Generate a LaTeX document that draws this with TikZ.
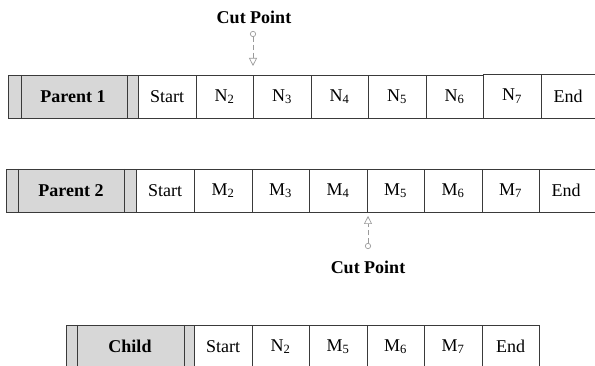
\documentclass[tikz,border=0pt]{standalone}
\usepackage{fontspec}
\setmainfont{Liberation Serif}
\usetikzlibrary{arrows.meta}
\definecolor{edge}{HTML}{3A3A3A}
\definecolor{shade}{HTML}{D7D7D7}
\definecolor{cutgray}{HTML}{9A9A9A}
\tikzset{
  cell/.style={draw=edge, line width=0.9pt, fill=white, anchor=north west,
    minimum height=43pt, inner sep=0pt, outer sep=0pt,
    font=\fontsize{18}{20}\selectfont},
  headbox/.style={cell, fill=shade, font=\fontsize{18}{20}\selectfont\bfseries},
  sep/.style={draw=edge, line width=0.9pt},
  cutlabel/.style={font=\fontsize{18}{20}\selectfont\bfseries, inner sep=1pt},
  cutline/.style={draw=cutgray, line width=0.7pt, dash pattern=on 5pt off 3pt,
    {Circle[open,length=6pt,width=6pt]}-{Triangle[open,length=8pt,width=8pt]}}
}
\newcommand{\sub}[2]{#1\textsubscript{#2}}
\begin{document}
\begin{tikzpicture}[x=1pt,y=-1pt]
\useasboundingbox (0,0) rectangle (595,366);
\clip (0,0) rectangle (595,366);

% Row 1: Parent 1
\node[headbox, minimum width=130pt] (p1) at (8,75) {Parent 1};
\draw[sep] (p1.north west) ++(13,0) -- ++(0,43);
\draw[sep] (p1.north east) ++(-11,0) -- ++(0,43);
\node[cell, minimum width=58pt] (p1s) at (138,75) {Start};
\node[cell, minimum width=57pt] (p1n2) at (196,75) {\sub{N}{2}};
\node[cell, minimum width=58pt] (p1n3) at (253,75) {\sub{N}{3}};
\node[cell, minimum width=57pt] (p1n4) at (311,75) {\sub{N}{4}};
\node[cell, minimum width=58pt] (p1n5) at (368,75) {\sub{N}{5}};
\node[cell, minimum width=57pt] (p1n6) at (426,75) {\sub{N}{6}};
\node[cell, minimum width=58pt, minimum height=44pt] (p1n7) at (483,74) {\sub{N}{7}};
\node[cell, minimum width=60pt, minimum height=44pt] (p1e) at (541,74) {};
\node[font=\fontsize{18}{20}\selectfont] (p1et) at (568,96) {End};

% Row 2: Parent 2
\node[headbox, minimum width=130pt] (p2) at (6,169) {Parent 2};
\draw[sep] (p2.north west) ++(12,0) -- ++(0,43);
\draw[sep] (p2.north east) ++(-12,0) -- ++(0,43);
\node[cell, minimum width=58pt] (p2s) at (136,169) {Start};
\node[cell, minimum width=58pt] (p2m2) at (194,169) {\sub{M}{2}};
\node[cell, minimum width=57pt] (p2m3) at (252,169) {\sub{M}{3}};
\node[cell, minimum width=58pt] (p2m4) at (309,169) {\sub{M}{4}};
\node[cell, minimum width=57pt] (p2m5) at (367,169) {\sub{M}{5}};
\node[cell, minimum width=58pt] (p2m6) at (424,169) {\sub{M}{6}};
\node[cell, minimum width=57pt] (p2m7) at (482,169) {\sub{M}{7}};
\node[cell, minimum width=60pt] (p2e) at (539,169) {};
\node[font=\fontsize{18}{20}\selectfont] (p2et) at (566,190.5) {End};

% Row 3: Child
\node[headbox, minimum width=128pt] (ch) at (66,325) {Child};
\draw[sep] (ch.north west) ++(11,0) -- ++(0,43);
\draw[sep] (ch.north east) ++(-10,0) -- ++(0,43);
\node[cell, minimum width=58pt] (chs) at (194,325) {Start};
\node[cell, minimum width=57pt] (chn2) at (252,325) {\sub{N}{2}};
\node[cell, minimum width=58pt] (chm5) at (309,325) {\sub{M}{5}};
\node[cell, minimum width=57pt] (chm6) at (367,325) {\sub{M}{6}};
\node[cell, minimum width=58pt] (chm7) at (424,325) {\sub{M}{7}};
\node[cell, minimum width=57pt] (che) at (482,325) {End};

% Cut points
\node[cutlabel] (cut1) at (254,17) {Cut Point};
\coordinate (c1a) at (253,31);
\coordinate (c1b) at (253,66);
\draw[cutline] (c1a) -- (c1b);

\node[cutlabel] (cut2) at (368,267) {Cut Point};
\coordinate (c2a) at (368,249);
\coordinate (c2b) at (368,216);
\draw[cutline] (c2a) -- (c2b);
\end{tikzpicture}
\end{document}
